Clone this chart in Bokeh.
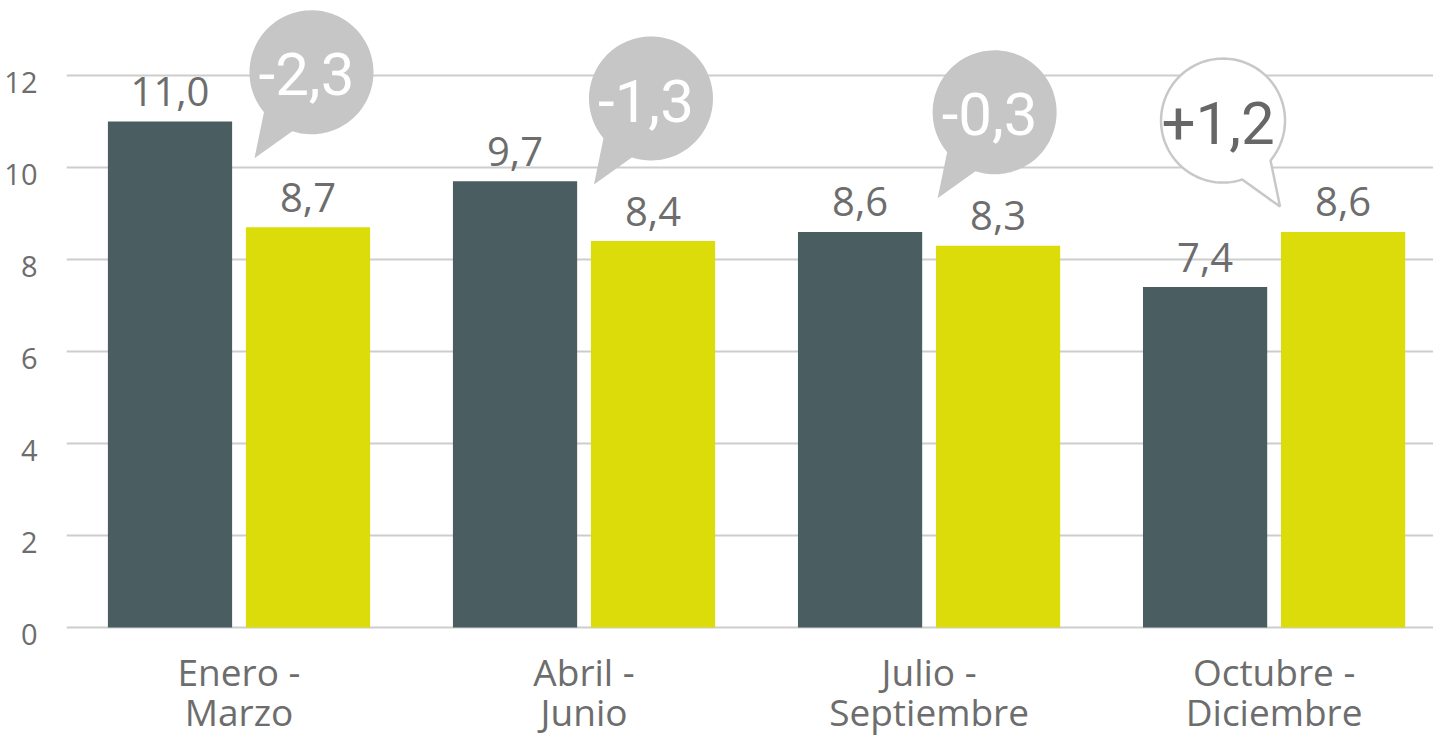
import numpy as np
from bokeh.plotting import figure
from bokeh.models import ColumnDataSource, Range1d, FixedTicker, CustomJSTickFormatter
from bokeh.core.properties import value
from bokeh.embed import file_html
from bokeh.resources import INLINE

# ---------------- data ----------------
categories = ["Enero -\nMarzo", "Abril -\nJunio", "Julio -\nSeptiembre", "Octubre -\nDiciembre"]
series_prev = [11.0, 9.7, 8.6, 7.4]
series_curr = [8.7, 8.4, 8.3, 8.6]
diff_labels = ["-2,3", "-1,3", "-0,3", "+1,2"]
y_ticks = [0, 2, 4, 6, 8, 10, 12]

# ---------------- layout / style ----------------
W, H = 1433, 736
BL = 66
X_END = 3.962                 # the last category runs slightly past the right edge
PX_PER_Y = 46.0
ZERO_FROM_TOP = 627           # pixels from frame top to the zero line
Y_MAX = ZERO_FROM_TOP / PX_PER_Y
Y_MIN = -(H - ZERO_FROM_TOP) / PX_PER_Y
BASE_FIX = 15                 # bokeh's alphabetic anchor sits ~15px low
BAR_W = 0.36
DODGE = 0.2
DARK = "#4a5e62"
YELLOW = "#dddc0b"
GREY_TXT = "#6d6d6d"
GRID = "#cdcdcd"
BUBBLE = "#c6c6c6"
FONT = "Open Sans"
COND = "Roboto"
LABEL_SHIFT = 0.15            # y-tick labels sit a little below their grid line

# bubble placement (offset from category centre, data units) and tail side
bubble_dx = [0.21, 0.194, 0.19, -0.148]
bubble_y = [12.07, 11.5, 11.2, 11.02]
bubble_side = ["left", "left", "left", "right"]
R_PX = 62

def fmt(v):
    return f"{v:.1f}".replace(".", ",")

frame_w = W - BL
px_x = frame_w / X_END             # pixels per x unit

idx = np.arange(len(categories)) + 0.5
line1 = [c.split("\n")[0] for c in categories]
line2 = [c.split("\n")[1] for c in categories]

src = ColumnDataSource(dict(
    xc=idx,
    xa=idx - DODGE,
    xb=idx + DODGE,
    prev=series_prev,
    curr=series_curr,
    prev_lbl=[fmt(v) for v in series_prev],
    curr_lbl=[fmt(v) for v in series_curr],
    prev_lbl_y=[v + (15 + BASE_FIX) / PX_PER_Y for v in series_prev],
    curr_lbl_y=[v + (15 + BASE_FIX) / PX_PER_Y for v in series_curr],
    l1=line1, l2=line2,
    l1_y=[-(59 - BASE_FIX) / PX_PER_Y] * len(categories),
    l2_y=[-(99 - BASE_FIX) / PX_PER_Y] * len(categories),
))

p = figure(x_range=Range1d(0, X_END), y_range=Range1d(Y_MIN, Y_MAX),
           width=W, height=H, output_backend="svg", toolbar_location=None,
           min_border_left=BL, min_border_right=0, min_border_top=0, min_border_bottom=0)
p.outline_line_color = None
p.background_fill_color = "white"
p.border_fill_color = "white"
p.xaxis.visible = False
p.xgrid.grid_line_color = None
p.ygrid.ticker = FixedTicker(ticks=y_ticks)
p.ygrid.grid_line_color = GRID
p.ygrid.grid_line_width = 2

yax = p.yaxis[0]
yax.ticker = FixedTicker(ticks=[t - LABEL_SHIFT for t in y_ticks])
yax.formatter = CustomJSTickFormatter(args=dict(s=LABEL_SHIFT),
                                      code="return String(Math.round(tick + s));")
yax.axis_line_color = None
yax.major_tick_line_color = None
yax.minor_tick_line_color = None
yax.major_label_text_color = GREY_TXT
yax.major_label_text_font = FONT
yax.major_label_text_font_size = "29px"
yax.major_label_standoff = 23

# bars
p.vbar(x="xa", top="prev", width=BAR_W, source=src, fill_color=DARK, line_color=None)
p.vbar(x="xb", top="curr", width=BAR_W, source=src, fill_color=YELLOW, line_color=None)

# value labels
for xcol, ycol, lbl in (("xa", "prev_lbl_y", "prev_lbl"), ("xb", "curr_lbl_y", "curr_lbl")):
    p.text(x=xcol, y=ycol, text=lbl, source=src,
           text_align="center", text_baseline="alphabetic",
           text_font=value(FONT), text_font_size="40px", text_color=GREY_TXT)

# category labels (two lines)
for ycol, lbl in (("l1_y", "l1"), ("l2_y", "l2")):
    p.text(x="xc", y=ycol, text=lbl, source=src,
           text_align="center", text_baseline="alphabetic",
           text_font=value(FONT), text_font_size="37px", text_color=GREY_TXT)

# speech bubbles
tails = {
    "left": dict(a_lo=108, a_hi=140, tip=(-57, 86)),
    "right": dict(a_lo=40, a_hi=72, tip=(57, 86)),
}

for i, lab in enumerate(diff_labels):
    cx = idx[i] + bubble_dx[i]
    cy = bubble_y[i]
    t = tails[bubble_side[i]]
    ang = np.radians(np.linspace(t["a_hi"], t["a_lo"] + 360, 120))
    dxs = list(R_PX * np.cos(ang)) + [t["tip"][0]]
    dys = list(R_PX * np.sin(ang)) + [t["tip"][1]]
    xs = [cx + d / px_x for d in dxs]
    ys = [cy - d / PX_PER_Y for d in dys]
    filled = lab.startswith("-")
    if filled:
        p.patch(xs, ys, fill_color=BUBBLE, line_color=None)
        tcol = "white"
    else:
        p.patch(xs, ys, fill_color="white", line_color="#c8c8c8", line_width=2.5)
        tcol = "#676767"
    p.text(x=[cx - 5 / px_x], y=[cy - 2 / PX_PER_Y], text=[lab],
           text_align="center", text_baseline="middle",
           text_font=value(COND), text_font_size="60px", text_color=tcol)

open("out.html", "w").write(file_html(p, INLINE))
